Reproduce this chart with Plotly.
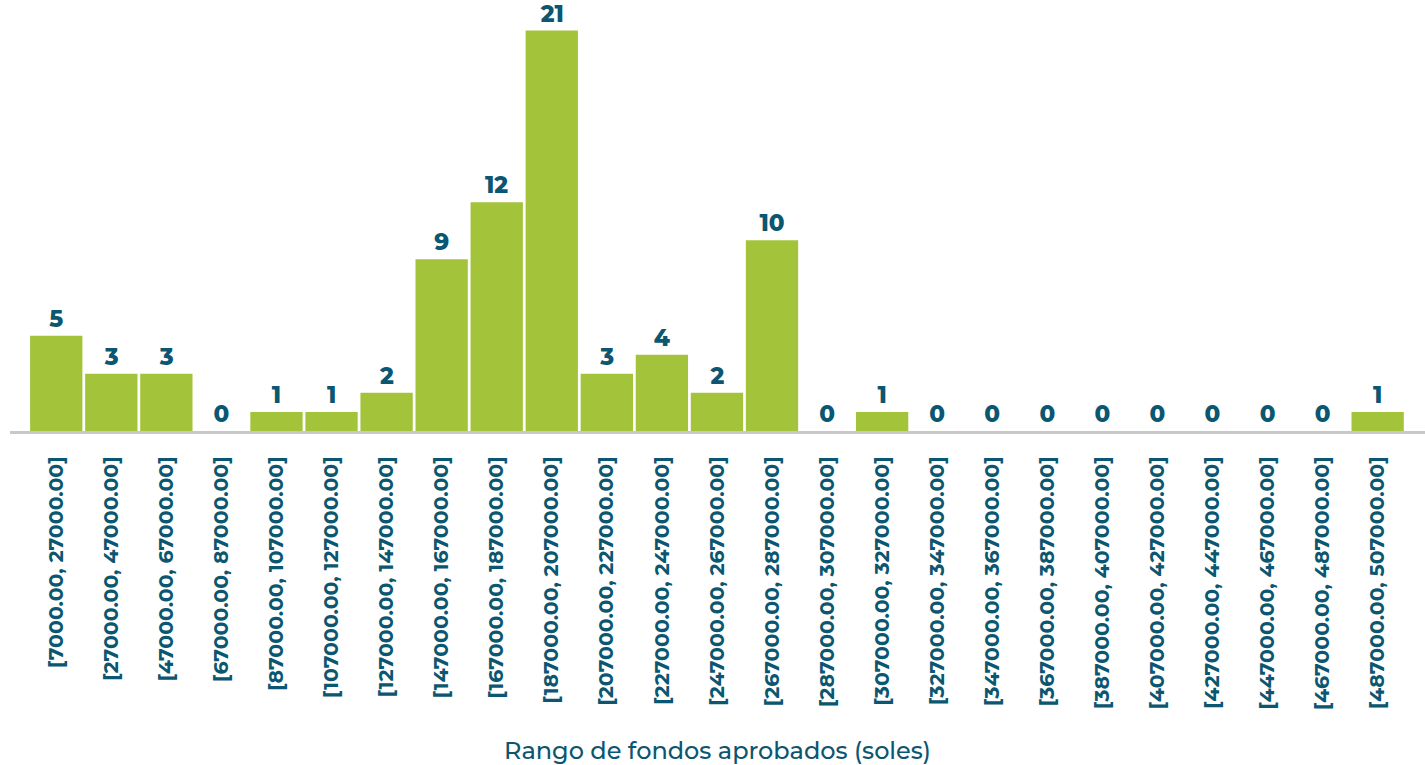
import plotly.graph_objects as go

lower = [7000 + 20000 * i for i in range(25)]
categories = [f"[{lo:.2f}, {lo + 20000:.2f}]" for lo in lower]
counts = [5, 3, 3, 0, 1, 1, 2, 9, 12, 21, 3, 4, 2, 10, 0, 1, 0, 0, 0, 0, 0, 0, 0, 0, 1]

teal = "#0b5670"
green = "#a3c43a"
font_fam = "Montserrat, Open Sans, sans-serif"

fig = go.Figure(go.Bar(
    x=categories, y=counts,
    marker=dict(color=green, line=dict(width=0)),
    text=[str(c) for c in counts], textposition="outside",
    textfont=dict(family=font_fam, size=23, color=teal, weight=800),
    cliponaxis=False,
))
fig.update_layout(
    width=1425, height=765,
    margin=dict(l=10, r=0, t=0, b=334),
    plot_bgcolor="white", paper_bgcolor="white",
    bargap=0.05, showlegend=False,
    xaxis=dict(
        range=[-0.84, 24.86], tickangle=-90, automargin=False,
        tickfont=dict(family=font_fam, size=20.5, color=teal, weight=700),
        showline=True, linecolor="#c8c8c8", linewidth=3,
        ticks="outside", ticklen=14, tickcolor="rgba(0,0,0,0)",
        title=dict(text="Rango de fondos aprobados (soles)", standoff=38,
                   font=dict(family=font_fam, size=24, color=teal, weight=500)),
    ),
    yaxis=dict(range=[0, 22.6], visible=False, showgrid=False, automargin=False),
)
fig.write_html("out.html", post_script="document.body.style.margin='0';",
               config={"displayModeBar": False})
